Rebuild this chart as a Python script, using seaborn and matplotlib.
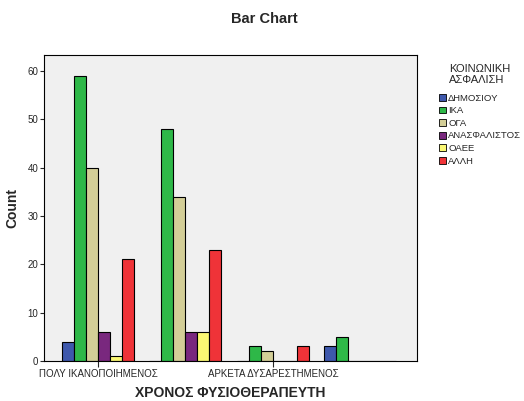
import matplotlib
matplotlib.use("Agg")
import matplotlib.pyplot as plt
import seaborn as sns
import pandas as pd

# categories of the x variable (only every other label is printed, as in SPSS)
categories = ["ΠΟΛΥ ΙΚΑΝΟΠΟΙΗΜΕΝΟΣ", "ΑΡΚΕΤΑ ΙΚΑΝΟΠΟΙΗΜΕΝΟΣ",
              "ΑΡΚΕΤΑ ΔΥΣΑΡΕΣΤΗΜΕΝΟΣ", "ΠΟΛΥ ΔΥΣΑΡΕΣΤΗΜΕΝΟΣ"]
insurance = ["ΔΗΜΟΣΙΟΥ", "ΙΚΑ", "ΟΓΑ", "ΑΝΑΣΦΑΛΙΣΤΟΣ", "ΟΑΕΕ", "ΑΛΛΗ"]
colors = ["#3E58AC", "#2EB848", "#D3CE97", "#79287E", "#FBF873", "#EF3338"]

dimosiou = [4, 0, 0, 3]
ika = [59, 48, 3, 5]
oga = [40, 34, 2, 0]
anasfalistos = [6, 6, 0, 0]
oaee = [1, 6, 0, 0]
alli = [21, 23, 3, 0]

counts = [dimosiou, ika, oga, anasfalistos, oaee, alli]
rows = []
for ins, vals in zip(insurance, counts):
    for cat, v in zip(categories, vals):
        rows.append({"cat": cat, "ins": ins, "n": v})
df = pd.DataFrame(rows)

sns.set_style("white")
plt.rcParams["font.family"] = ["Liberation Sans", "DejaVu Sans"]

fig = plt.figure(figsize=(5.24, 4.01), dpi=100)
ax = fig.add_axes([44 / 524, 40 / 401, 373 / 524, 306 / 401])
ax.set_facecolor("#F0F0F0")

sns.barplot(data=df, x="cat", y="n", hue="ins", order=categories,
            hue_order=insurance, palette=colors, width=0.823, gap=0,
            edgecolor="black", linewidth=0.8, saturation=1, ax=ax)

ax.set_xlim(-0.617, 3.646)
ax.set_ylim(0, 63.3)
ax.set_yticks(range(0, 61, 10))
ax.set_xticks([0, 2])
ax.set_xticklabels([categories[0], categories[2]], fontsize=7)
ax.tick_params(axis="y", labelsize=7, length=3, width=0.8, direction="out", left=True, pad=1)
ax.tick_params(axis="x", length=4, width=0.8, direction="out", bottom=True, pad=2)
for s in ax.spines.values():
    s.set_color("black")
    s.set_linewidth(0.8)

ax.set_xlabel("ΧΡΟΝΟΣ ΦΥΣΙΟΘΕΡΑΠΕΥΤΗ", fontsize=10, fontweight="bold", labelpad=5)
ax.set_ylabel("Count", fontsize=10, fontweight="bold", labelpad=6)
fig.text(0.505, 0.953, "Bar Chart", ha="center", va="center", fontsize=10.5, fontweight="bold")

handles, labels = ax.get_legend_handles_labels()
leg = ax.legend(handles, labels, title="ΚΟΙΝΩΝΙΚΗ\nΑΣΦΑΛΙΣΗ", loc="upper left",
                bbox_to_anchor=(435 / 524, 341 / 401), bbox_transform=fig.transFigure,
                frameon=False, fontsize=6.8, title_fontsize=8, handlelength=0.75,
                handleheight=0.75, handletextpad=0.25, labelspacing=0.38, borderaxespad=0)
leg._legend_box.align = "center"
leg._legend_box.sep = 6
for h in leg.legend_handles:
    h.set_edgecolor("black")
    h.set_linewidth(0.6)

fig.savefig("out.png", dpi=100)
